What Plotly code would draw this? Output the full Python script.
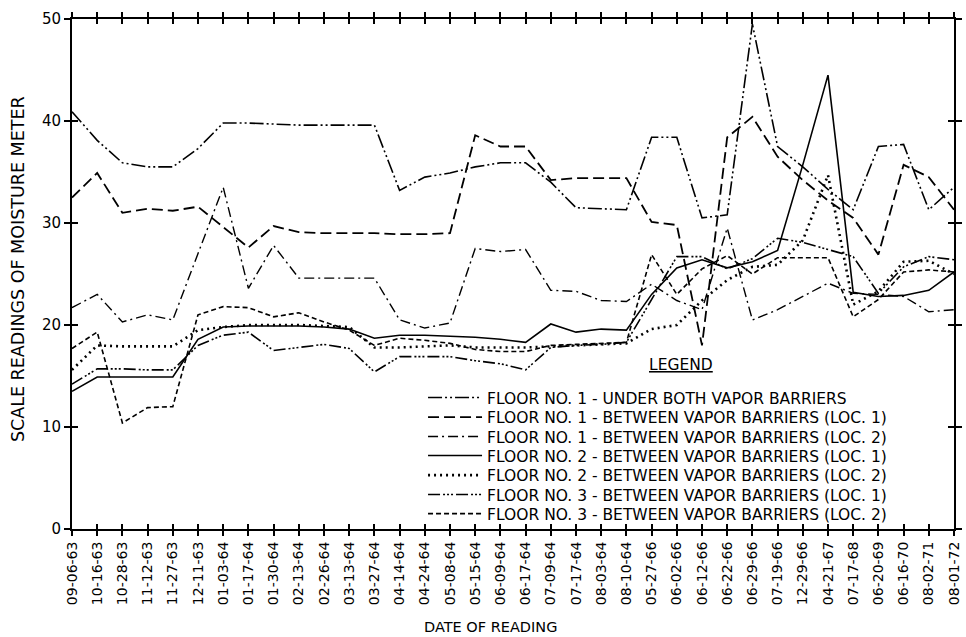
import plotly.graph_objects as go

dates = ["09-06-63","10-16-63","10-28-63","11-12-63","11-27-63","12-11-63","01-03-64","01-17-64",
         "01-30-64","02-13-64","02-26-64","03-13-64","03-27-64","04-14-64","04-24-64","05-08-64",
         "05-15-64","06-09-64","06-17-64","07-09-64","07-17-64","08-03-64","08-10-64","05-27-66",
         "06-02-66","06-12-66","06-22-66","06-29-66","07-19-66","12-29-66","04-21-67","07-17-68",
         "06-20-69","06-16-70","08-02-71","08-01-72"]

f1_under = [40.9, 38.1, 35.9, 35.5, 35.5, 37.3, 39.8, 39.8, 39.7, 39.6, 39.6, 39.6, 39.6, 33.2, 34.5, 34.9,
            35.5, 35.9, 35.9, 34.0, 31.5, 31.4, 31.3, 38.4, 38.4, 30.5, 30.8, 49.5, 37.5, 35.5, 33.3, 31.3,
            37.5, 37.7, 31.3, 33.5]
f1_loc1 = [32.5, 34.9, 31.0, 31.4, 31.2, 31.6, 29.6, 27.6, 29.7, 29.1, 29.0, 29.0, 29.0, 28.9, 28.9, 29.0,
           38.6, 37.5, 37.5, 34.2, 34.4, 34.4, 34.4, 30.1, 29.8, 18.0, 38.4, 40.4, 36.5, 34.2, 32.2, 30.5,
           26.9, 35.7, 34.5, 31.3]
f1_loc2 = [21.7, 23.0, 20.3, 21.0, 20.5, 27.0, 33.5, 23.6, 27.8, 24.6, 24.6, 24.6, 24.6, 20.5, 19.7, 20.2,
           27.5, 27.2, 27.4, 23.4, 23.3, 22.4, 22.3, 24.0, 22.4, 21.5, 29.5, 20.5, 21.5, 22.8, 24.1, 23.1,
           23.0, 22.8, 21.3, 21.5]
f2_loc1 = [13.5, 14.9, 14.9, 14.9, 14.9, 18.6, 19.8, 19.9, 19.9, 19.9, 19.8, 19.6, 18.7, 19.0, 19.0, 18.9,
           18.8, 18.6, 18.3, 20.1, 19.3, 19.6, 19.5, 23.0, 25.6, 26.4, 25.6, 26.2, 27.3, 35.7, 44.5, 23.2,
           22.8, 22.9, 23.4, 25.2]
f2_loc2 = [15.6, 18.0, 17.9, 17.9, 17.9, 19.5, 19.8, 20.0, 20.0, 20.0, 19.9, 19.8, 17.8, 17.8, 17.9, 18.0,
           17.8, 17.8, 17.8, 17.9, 18.0, 18.1, 18.2, 19.6, 20.0, 22.4, 24.4, 25.7, 25.9, 28.3, 34.7, 22.0,
           23.3, 26.2, 26.3, 25.0]
f3_loc1 = [14.2, 15.7, 15.7, 15.6, 15.6, 18.0, 19.0, 19.3, 17.5, 17.8, 18.1, 17.7, 15.4, 16.9, 16.9, 16.9,
           16.5, 16.2, 15.6, 17.8, 18.0, 18.1, 18.3, 22.5, 26.7, 26.7, 25.5, 26.5, 28.5, 28.1, 27.4, 26.7,
           23.1, 25.7, 26.7, 26.4]
f3_loc2 = [17.7, 19.3, 10.4, 11.9, 12.0, 21.0, 21.8, 21.7, 20.8, 21.2, 20.3, 19.5, 18.0, 18.7, 18.5, 18.2,
           17.6, 17.4, 17.4, 18.0, 18.1, 18.2, 18.3, 26.9, 23.0, 25.5, 26.8, 25.0, 26.6, 26.6, 26.6, 20.8,
           22.5, 25.2, 25.4, 25.2]

names = ["FLOOR NO. 1 - UNDER BOTH VAPOR BARRIERS",
         "FLOOR NO. 1 - BETWEEN VAPOR BARRIERS (LOC. 1)",
         "FLOOR NO. 1 - BETWEEN VAPOR BARRIERS (LOC. 2)",
         "FLOOR NO. 2 - BETWEEN VAPOR BARRIERS (LOC. 1)",
         "FLOOR NO. 2 - BETWEEN VAPOR BARRIERS (LOC. 2)",
         "FLOOR NO. 3 - BETWEEN VAPOR BARRIERS (LOC. 1)",
         "FLOOR NO. 3 - BETWEEN VAPOR BARRIERS (LOC. 2)"]
series = [f1_under, f1_loc1, f1_loc2, f2_loc1, f2_loc2, f3_loc1, f3_loc2]
dashes = ["14px,3px,2px,3px,2px,3px",
          "11px,5px",
          "10px,4px,2px,4px",
          "solid",
          "2px,4px",
          "12px,3px,2px,2px,2px,2px,2px,3px",
          "5px,3px"]
widths = [1.6, 1.8, 1.4, 1.6, 2.6, 1.6, 1.6]

FONT = "DejaVu Sans"
# one single-entry legend per series so the row spacing can match the original key
legend_ids = ["legend"] + ["legend%d" % k for k in range(2, 8)]
row_y = [0.2569, 0.2187, 0.1804, 0.1432, 0.1049, 0.0667, 0.0294]

fig = go.Figure()
for n, s, d, w, lg in zip(names, series, dashes, widths, legend_ids):
    fig.add_trace(go.Scatter(x=dates, y=s, mode="lines", name=n, legend=lg,
                             line=dict(color="black", width=w, dash=d)))

# invisible trace on overlay axes so that inner ticks are drawn
fig.add_trace(go.Scatter(x=dates, y=f1_under, xaxis="x2", yaxis="y2", mode="lines",
                         line=dict(color="rgba(0,0,0,0)"), showlegend=False, hoverinfo="skip"))

legends = {}
for lg, yy in zip(legend_ids, row_y):
    legends[lg] = dict(x=0.398, y=yy, xanchor="left", yanchor="middle",
                       bgcolor="rgba(0,0,0,0)", font=dict(size=15.5, family=FONT),
                       itemwidth=54, borderwidth=0)

fig.update_layout(
    width=966, height=637,
    margin=dict(l=72, r=4, t=19, b=108),
    paper_bgcolor="white", plot_bgcolor="white",
    font=dict(family=FONT, color="black"),
    showlegend=True,
    xaxis=dict(type="category", categoryorder="array", categoryarray=dates,
               range=[0, len(dates) - 1], tickangle=-90, ticks="outside", ticklen=5,
               tickwidth=1.5, tickcolor="black", showline=True, linewidth=2, linecolor="black",
               mirror="allticks", showgrid=False, zeroline=False,
               tickfont=dict(size=14, family=FONT)),
    yaxis=dict(range=[0, 50], dtick=10, ticks="outside", ticklen=6, tickwidth=1.5,
               tickcolor="black", showline=True, linewidth=2, linecolor="black",
               mirror="allticks", showgrid=False, zeroline=False,
               tickfont=dict(size=15, family=FONT)),
    xaxis2=dict(type="category", categoryorder="array", categoryarray=dates,
                overlaying="x", matches="x", anchor="y2", ticks="inside", ticklen=5,
                tickwidth=1.5, tickcolor="black", mirror="allticks", showline=False,
                showticklabels=False, showgrid=False, zeroline=False),
    yaxis2=dict(range=[0, 50], dtick=10, overlaying="y", anchor="x2", ticks="inside",
                ticklen=6, tickwidth=1.5, tickcolor="black", mirror="allticks",
                showline=False, showticklabels=False, showgrid=False, zeroline=False),
    annotations=[
        dict(text="<u>LEGEND</u>", xref="paper", yref="paper", x=0.69, y=0.322,
             xanchor="center", yanchor="middle", showarrow=False,
             font=dict(size=15.5, family=FONT)),
        dict(text="SCALE READINGS OF MOISTURE METER", xref="paper", yref="paper",
             x=-0.061, y=0.51, xanchor="center", yanchor="middle", textangle=-90,
             showarrow=False, font=dict(size=17.5, family=FONT)),
        dict(text="DATE OF READING", xref="paper", yref="paper", x=0.475, y=-0.193,
             xanchor="center", yanchor="middle", showarrow=False,
             font=dict(size=14.5, family=FONT)),
    ],
    **legends,
)

fig.write_html("out.html")
